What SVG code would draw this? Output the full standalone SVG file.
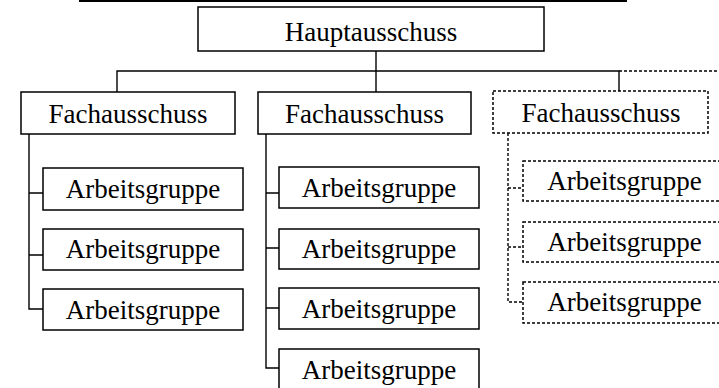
<svg xmlns="http://www.w3.org/2000/svg" width="719" height="388" viewBox="0 0 719 388">
<style>
.box{fill:#fff;stroke:#000;stroke-width:1.5}
.dbox{fill:#fff;stroke:#000;stroke-width:1.5;stroke-dasharray:3 2}
.ln{fill:none;stroke:#000;stroke-width:1.4}
.dln{fill:none;stroke:#000;stroke-width:1.4;stroke-dasharray:3 2}
text{font-family:"Liberation Serif","Times New Roman",serif;font-size:27px;fill:#000;text-anchor:middle}
</style>
<rect width="719" height="388" fill="#fff"/>
<line x1="79" y1="1" x2="627" y2="1" stroke="#000" stroke-width="2"/>
<g id="connectors">
<path class="ln" d="M117,92 V71 H619 V91"/>
<path class="ln" d="M376,51 V92"/>
<path class="dln" d="M619,71 H719"/>
<path class="ln" d="M29,134 V309 H43 M29,193 H43 M29,255 H43"/>
<path class="ln" d="M266,134 V368 H279 M266,193 H279 M266,248 H279 M266,308 H279"/>
<path class="dln" d="M508,133 V302 H523 M508,188 H523 M508,247 H523"/>
</g>
<g id="haupt"><rect class="box" x="198" y="7" width="346" height="44"/><text x="371" y="41">Hauptausschuss</text></g>
<g id="fa1"><rect class="box" x="21" y="92" width="214" height="42"/><text x="128" y="123">Fachausschuss</text></g>
<g id="fa2"><rect class="box" x="258" y="92" width="213" height="42"/><text x="364.5" y="123">Fachausschuss</text></g>
<g id="fa3"><rect class="dbox" x="493" y="91" width="215" height="42"/><text x="601" y="122">Fachausschuss</text></g>
<g id="ag1a"><rect class="box" x="43" y="168" width="200" height="42"/><text x="143" y="198">Arbeitsgruppe</text></g>
<g id="ag1b"><rect class="box" x="43" y="229" width="200" height="41"/><text x="143" y="258">Arbeitsgruppe</text></g>
<g id="ag1c"><rect class="box" x="43" y="289" width="200" height="41"/><text x="143" y="319">Arbeitsgruppe</text></g>
<g id="ag2a"><rect class="box" x="279" y="167" width="200" height="41"/><text x="379" y="197">Arbeitsgruppe</text></g>
<g id="ag2b"><rect class="box" x="279" y="229" width="200" height="40"/><text x="379" y="258">Arbeitsgruppe</text></g>
<g id="ag2c"><rect class="box" x="279" y="288" width="200" height="41"/><text x="379" y="318">Arbeitsgruppe</text></g>
<g id="ag2d"><rect class="box" x="279" y="349" width="200" height="45"/><text x="379" y="379">Arbeitsgruppe</text></g>
<g id="ag3a"><rect class="dbox" x="523" y="161" width="203" height="40"/><text x="624.5" y="190">Arbeitsgruppe</text></g>
<g id="ag3b"><rect class="dbox" x="523" y="222" width="203" height="40"/><text x="624.5" y="251">Arbeitsgruppe</text></g>
<g id="ag3c"><rect class="dbox" x="523" y="282" width="203" height="41"/><text x="624.5" y="311">Arbeitsgruppe</text></g>
</svg>
